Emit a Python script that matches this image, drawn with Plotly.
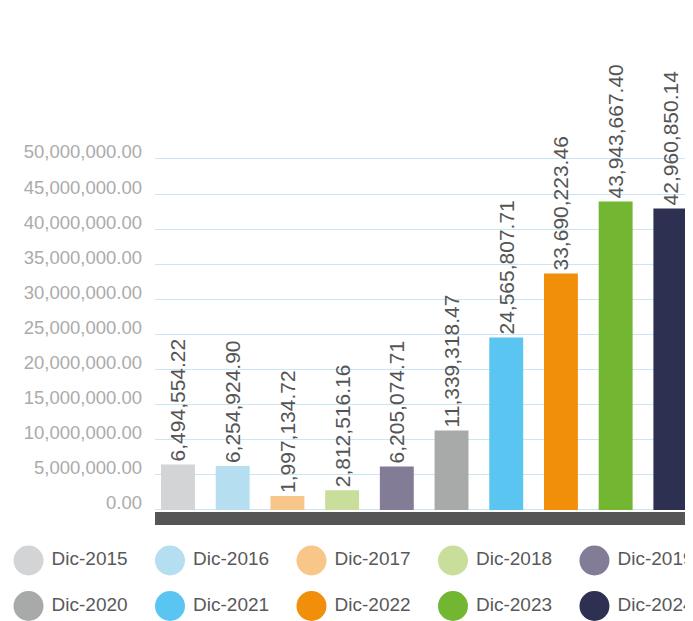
import plotly.graph_objects as go

categories = ["Dic-2015", "Dic-2016", "Dic-2017", "Dic-2018", "Dic-2019",
              "Dic-2020", "Dic-2021", "Dic-2022", "Dic-2023", "Dic-2024"]
values = [6494554.22, 6254924.90, 1997134.72, 2812516.16, 6205074.71,
          11339318.47, 24565807.71, 33690223.46, 43943667.40, 42960850.14]
colors = ["#d3d4d6", "#b5dff0", "#f9c68a", "#c9de9a", "#827c96",
          "#a8a9a9", "#5bc5f2", "#f28f0a", "#72b632", "#2e3052"]

W, H = 693, 621
FONT = "Liberation Sans, Arial, Helvetica, sans-serif"
OFF = 8  # page body margin offset
Y_MAX = 50.15e6

fig = go.Figure()

for i, (cat, val, col) in enumerate(zip(categories, values, colors)):
    fig.add_trace(go.Bar(
        x=[i], y=[val], name=cat, width=0.62,
        marker=dict(color=col, line=dict(width=0)),
        texttemplate="%{y:,.2f}", textposition="outside", textangle=-90,
        textfont=dict(family=FONT, size=21, color="#555555"),
        constraintext="none", cliponaxis=False, showlegend=False,
        xaxis="x", yaxis="y",
    ))

# custom legend: big circles + labels
legend_cols = [i % 5 for i in range(len(categories))]
legend_rows = [i // 5 for i in range(len(categories))]
fig.add_trace(go.Scatter(
    x=legend_cols, y=legend_rows, mode="markers",
    marker=dict(size=30, color=colors, line=dict(width=0)),
    hoverinfo="skip", showlegend=False, cliponaxis=False,
    xaxis="x2", yaxis="y2",
))
fig.add_trace(go.Scatter(
    x=[c + 0.163 for c in legend_cols], y=legend_rows, mode="text",
    text=categories, textposition="middle right",
    textfont=dict(family=FONT, size=19, color="#595959"),
    hoverinfo="skip", showlegend=False, cliponaxis=False,
    xaxis="x2", yaxis="y2",
))

plot_left, plot_bottom = 155 - OFF, 510 - OFF
plot_h = 351 * Y_MAX / 50e6
plot_top = plot_bottom - plot_h

fig.update_layout(
    width=W, height=H,
    margin=dict(l=0, r=0, t=0, b=0),
    paper_bgcolor="white", plot_bgcolor="white",
    barmode="overlay",
    showlegend=False,
    font=dict(family=FONT),
    xaxis=dict(domain=[plot_left / W, 1], range=[-0.42, 9.56],
               showgrid=False, showticklabels=False, zeroline=False,
               showline=False, ticks="", automargin=False),
    yaxis=dict(domain=[(H - plot_bottom) / H, (H - plot_top) / H],
               range=[0, Y_MAX], tick0=0, dtick=5e6, tickformat=",.2f",
               showgrid=True, gridcolor="#c9e6f4", gridwidth=1.2,
               zeroline=True, zerolinecolor="#c9e6f4", zerolinewidth=1.2,
               showline=False, ticks="", ticklabelstandoff=12,
               ticklabelshift=-7,
               tickfont=dict(family=FONT, size=18.5, color="#ababab"),
               anchor="x", automargin=False),
    xaxis2=dict(domain=[0, 1], range=[-0.145, 4.753], visible=False,
                anchor="y2", automargin=False),
    yaxis2=dict(domain=[0, 91 / H], range=[1.5055, -0.4945], visible=False,
                anchor="x2", automargin=False),
    shapes=[dict(type="rect", xref="x domain", yref="y domain",
                 x0=0, x1=1, y0=-2 / plot_h, y1=-15 / plot_h,
                 fillcolor="#555555", line=dict(width=0), layer="above")],
)

fig.write_html("out.html")
